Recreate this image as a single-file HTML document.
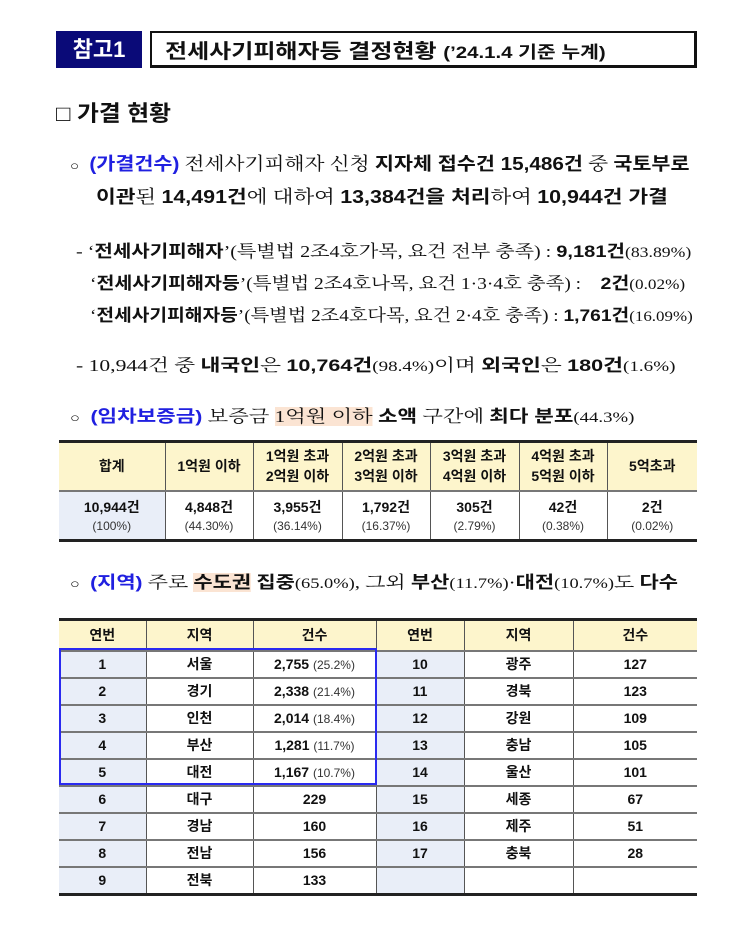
<!DOCTYPE html>
<html><head><meta charset="utf-8">
<style>
*{margin:0;padding:0;box-sizing:border-box}
body{width:752px;height:945px;background:#fff;position:relative;overflow:hidden;font-family:"Liberation Sans","Noto Sans CJK KR",sans-serif;color:#111}
.a{position:absolute;white-space:nowrap;transform-origin:left top}
.serif{font-family:"Liberation Serif","Noto Serif CJK SC",serif}
b{font-weight:bold;font-family:"Liberation Sans","Noto Sans CJK KR",sans-serif}
.blue{color:#2020e0;font-weight:bold;font-family:"Liberation Sans","Noto Sans CJK KR",sans-serif}
.hl{background:#fbe4d3}
table{position:absolute;border-collapse:collapse;table-layout:fixed;font-family:"Liberation Sans","Noto Sans CJK KR",sans-serif}
td{text-align:center;vertical-align:middle;border-left:1px solid #555;border-top:2px solid #777;font-size:14px;font-weight:bold}
td:first-child{border-left:none}
tr.h td{background:#fdf5cc;border-top:3px solid #222}
tr.last td{border-bottom:3px solid #222}
.lb{background:#e9eef8}
.sm{font-weight:normal;font-size:12px;color:#333}
.p{font-size:15px}
</style></head><body>
<div class="a" style="left:56px;top:31px;width:86px;height:37px;background:#0a0a78;color:#fff;font-size:22px;font-weight:bold;text-align:center;line-height:37px">참고1</div>
<div class="a" style="left:150px;top:31px;width:547px;height:37px;border:2px solid #111;border-bottom-width:3px;border-right-width:3px"></div>
<div class="a" style="left:165px;top:35px;font-size:20px;font-weight:bold;transform:scaleX(1.2)">전세사기피해자등 결정현황 <span style="font-size:17px">(’24.1.4 기준 누계)</span></div>

<div class="a" style="left:56px;top:96px;font-size:22px;font-weight:bold;transform:scaleX(1.08)"><span style="font-weight:normal">□</span> 가결 현황</div>

<div class="a serif" style="left:70px;top:150px;font-size:18px;transform:scaleX(1.15)"><span style="font-size:13px">○</span>&nbsp; <span class="blue">(가결건수)</span> 전세사기피해자 신청 <b>지자체 접수건 15,486건</b> 중 <b>국토부로</b></div>
<div class="a serif" style="left:96px;top:183px;font-size:18px;transform:scaleX(1.19)"><b>이관</b>된 <b>14,491건</b>에 대하여 <b>13,384건을 처리</b>하여 <b>10,944건 가결</b></div>

<div class="a serif" style="left:76px;top:237px;font-size:17px;transform:scaleX(1.18)">- ‘<b>전세사기피해자</b>’(특별법 2조4호가목, 요건 전부 충족) : <b>9,181건</b><span class="p">(83.89%)</span></div>
<div class="a serif" style="left:90px;top:269px;font-size:17px;transform:scaleX(1.145)">‘<b>전세사기피해자등</b>’(특별법 2조4호나목, 요건 1·3·4호 충족) : &nbsp;&nbsp; <b>2건</b><span class="p">(0.02%)</span></div>
<div class="a serif" style="left:90px;top:301px;font-size:17px;transform:scaleX(1.13)">‘<b>전세사기피해자등</b>’(특별법 2조4호다목, 요건 2·4호 충족) : <b>1,761건</b><span class="p">(16.09%)</span></div>

<div class="a serif" style="left:76px;top:351px;font-size:17px;transform:scaleX(1.27)">- 10,944건 중 <b>내국인</b>은 <b>10,764건</b><span class="p">(98.4%)</span>이며 <b>외국인</b>은 <b>180건</b><span class="p">(1.6%)</span></div>

<div class="a serif" style="left:70px;top:402px;font-size:17px;transform:scaleX(1.25)"><span style="font-size:13px">○</span>&nbsp; <span class="blue">(임차보증금)</span> 보증금 <span class="hl">1억원 이하</span> <b>소액</b> 구간에 <b>최다 분포</b><span class="p">(44.3%)</span></div>

<table style="left:59px;top:440px;width:638px">
<colgroup><col style="width:106px"><col style="width:88px"><col style="width:89px"><col style="width:88px"><col style="width:89px"><col style="width:88px"><col style="width:90px"></colgroup>
<tr class="h" style="height:49px"><td>합계</td><td>1억원 이하</td><td>1억원 초과<br>2억원 이하</td><td>2억원 초과<br>3억원 이하</td><td>3억원 초과<br>4억원 이하</td><td>4억원 초과<br>5억원 이하</td><td>5억초과</td></tr>
<tr class="last" style="height:50px"><td class="lb">10,944건<br><span class="sm">(100%)</span></td><td>4,848건<br><span class="sm">(44.30%)</span></td><td>3,955건<br><span class="sm">(36.14%)</span></td><td>1,792건<br><span class="sm">(16.37%)</span></td><td>305건<br><span class="sm">(2.79%)</span></td><td>42건<br><span class="sm">(0.38%)</span></td><td>2건<br><span class="sm">(0.02%)</span></td></tr>
</table>

<div class="a serif" style="left:70px;top:568px;font-size:17px;transform:scaleX(1.23)"><span style="font-size:13px">○</span>&nbsp; <span class="blue">(지역)</span> 주로 <b class="hl">수도권</b> <b>집중</b><span class="p">(65.0%)</span>, 그외 <b>부산</b><span class="p">(11.7%)</span>·<b>대전</b><span class="p">(10.7%)</span>도 <b>다수</b></div>

<table style="left:59px;top:618px;width:638px">
<colgroup><col style="width:87px"><col style="width:107px"><col style="width:123px"><col style="width:88px"><col style="width:109px"><col style="width:124px"></colgroup>
<tr class="h" style="height:31px"><td>연번</td><td>지역</td><td>건수</td><td>연번</td><td>지역</td><td>건수</td></tr>
<tr style="height:27px"><td class="lb">1</td><td>서울</td><td>2,755 <span class="sm">(25.2%)</span></td><td class="lb">10</td><td>광주</td><td>127</td></tr>
<tr style="height:27px"><td class="lb">2</td><td>경기</td><td>2,338 <span class="sm">(21.4%)</span></td><td class="lb">11</td><td>경북</td><td>123</td></tr>
<tr style="height:27px"><td class="lb">3</td><td>인천</td><td>2,014 <span class="sm">(18.4%)</span></td><td class="lb">12</td><td>강원</td><td>109</td></tr>
<tr style="height:27px"><td class="lb">4</td><td>부산</td><td>1,281 <span class="sm">(11.7%)</span></td><td class="lb">13</td><td>충남</td><td>105</td></tr>
<tr style="height:27px"><td class="lb">5</td><td>대전</td><td>1,167 <span class="sm">(10.7%)</span></td><td class="lb">14</td><td>울산</td><td>101</td></tr>
<tr style="height:27px"><td class="lb">6</td><td>대구</td><td>229</td><td class="lb">15</td><td>세종</td><td>67</td></tr>
<tr style="height:27px"><td class="lb">7</td><td>경남</td><td>160</td><td class="lb">16</td><td>제주</td><td>51</td></tr>
<tr style="height:27px"><td class="lb">8</td><td>전남</td><td>156</td><td class="lb">17</td><td>충북</td><td>28</td></tr>
<tr class="last" style="height:28px"><td class="lb">9</td><td>전북</td><td>133</td><td class="lb"></td><td></td><td></td></tr>
</table>
<div class="a" style="left:59px;top:648px;width:318px;height:137px;border:2px solid #2a2af0"></div>
</body></html>
